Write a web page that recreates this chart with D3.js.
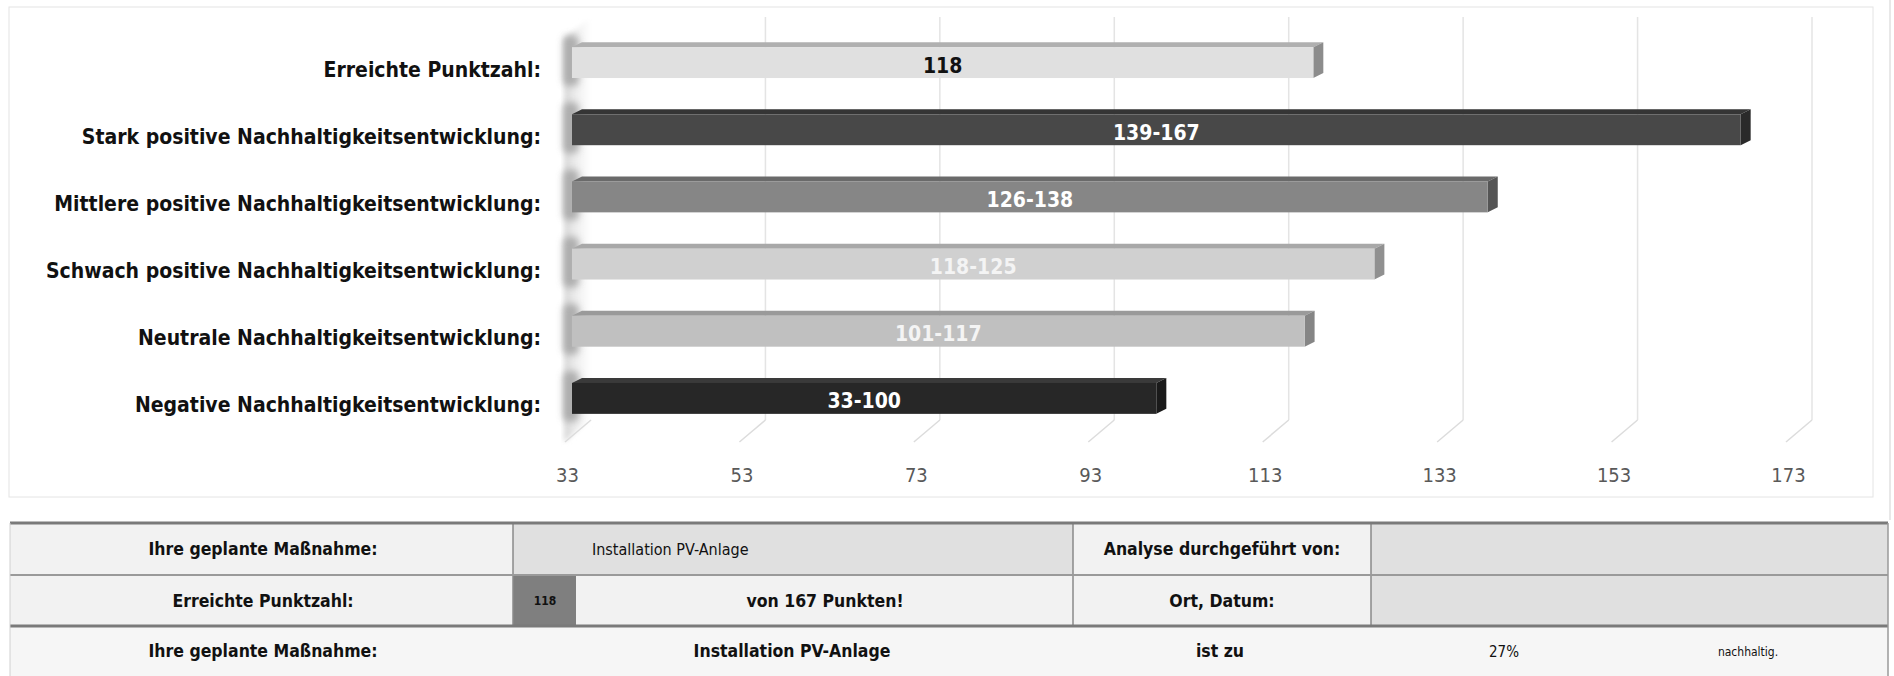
<!DOCTYPE html>
<html>
<head>
<meta charset="utf-8">
<script src="https://cdn.jsdelivr.net/npm/d3@7"></script>
<style>
	body{margin:0;background:#fff;}
	svg{display:block;font-family:"Liberation Sans Narrow","DejaVu Sans Condensed","Open Sans",sans-serif;}
</style>
</head>
<body>
<svg class="barChart" width="1894" height="676"></svg>
<script>

var categories = [
	'Erreichte Punktzahl:',
	'Stark positive Nachhaltigkeitsentwicklung:',
	'Mittlere positive Nachhaltigkeitsentwicklung:',
	'Schwach positive Nachhaltigkeitsentwicklung:',
	'Neutrale Nachhaltigkeitsentwicklung:',
	'Negative Nachhaltigkeitsentwicklung:'
];
var values = [118,167,138,125,117,100];
var barLabels = ['118','139-167','126-138','118-125','101-117','33-100'];
var tickValues = [33,53,73,93,113,133,153,173];

// table texts
var rowOne = ['Ihre geplante Maßnahme:','Installation PV-Anlage','Analyse durchgeführt von:',''];
var rowTwo = ['Erreichte Punktzahl:','118','von 167 Punkten!','Ort, Datum:',''];
var rowThree = ['Ihre geplante Maßnahme:','Installation PV-Anlage','ist zu','27%','nachhaltig.'];

var fronts = ['#e0e0e0','#484848','#868686','#d0d0d0','#c0c0c0','#272727'];
var tops = ['#b0b0b0','#353535','#6a6a6a','#a8a8a8','#9a9a9a','#3a3a3a'];
var sides = ['#8c8c8c','#2a2a2a','#555555','#909090','#858585','#1a1a1a'];
var textCols = ['#111','#fff','#fff','#f4f4f4','#f4f4f4','#fff'];

var svg = d3.select('.barChart');

var xScale = d3.scaleLinear()
				.domain([33,173])
				.range([567,1788]);

var yScale = d3.scaleBand()
				.domain(categories)
				.range([29,432])
				.paddingInner(0.54)
				.paddingOuter(0.27);

var depthX = 24, floorFront = 442, floorBack = 420, wallTop = 17;
var barOff = 5, barDx = 10, barDy = -5;

//chart frame
svg.append('rect')
	.attr('x',9).attr('y',7)
	.attr('width',1864).attr('height',490)
	.attr('fill','#fff')
	.attr('stroke','#e4e4e4');

svg.append('line')
	.attr('x1',1890).attr('x2',1890)
	.attr('y1',0).attr('y2',520)
	.attr('stroke','#e8e8e8')
	.attr('stroke-width',2);

var defs = svg.append('defs');
var wallGrad = defs.append('linearGradient')
				.attr('id','wallGrad')
				.attr('x1','0').attr('x2','1').attr('y1','0').attr('y2','0');
wallGrad.append('stop').attr('offset','0').attr('stop-color','#d6d6d6');
wallGrad.append('stop').attr('offset','0.5').attr('stop-color','#f0f0f0');
wallGrad.append('stop').attr('offset','1').attr('stop-color','#ffffff');

defs.append('filter').attr('id','soft')
	.append('feGaussianBlur').attr('stdDeviation',2.5);
defs.append('filter').attr('id','shadow')
	.attr('x','-1').attr('y','-1').attr('width','3').attr('height','3')
	.append('feGaussianBlur').attr('stdDeviation',3.5);

//left wall
var wx = xScale(33);
svg.append('path')
	.attr('d','M'+(wx-3)+','+(wallTop+22)+' L'+(wx+depthX)+','+wallTop+' L'+(wx+depthX)+','+floorBack+' L'+(wx-3)+','+floorFront+' Z')
	.attr('fill','url(#wallGrad)')
	.attr('filter','url(#soft)');

//gridlines (back wall) and floor lines
var grid = svg.append('g');
grid.selectAll('.gl')
	.data(tickValues.slice(1))
	.enter()
	.append('line')
	.attr('x1',d=>xScale(d)+depthX)
	.attr('x2',d=>xScale(d)+depthX)
	.attr('y1',wallTop)
	.attr('y2',floorBack)
	.attr('stroke','#e4e4e4')
	.attr('stroke-width',1.5);

grid.selectAll('.fl')
	.data(tickValues)
	.enter()
	.append('line')
	.attr('x1',d=>xScale(d)-2)
	.attr('x2',d=>xScale(d)+depthX)
	.attr('y1',floorFront)
	.attr('y2',floorBack)
	.attr('stroke','#dcdcdc')
	.attr('stroke-width',1.5);

//axis labels
var xAxisGen = d3.axisBottom(xScale).tickValues(tickValues).tickSize(0).tickPadding(0);
var xAxis = svg.append('g')
	.attr('transform','translate(0,482)')
	.call(xAxisGen);
xAxis.select('.domain').remove();
xAxis.selectAll('text')
	.attr('dy',0)
	.attr('fill','#595959')
	.attr('font-size',20)
	.attr('font-family','"Liberation Sans Narrow","DejaVu Sans Condensed",sans-serif');

//bars
function barPts(d,i){
	var x0 = xScale(33)+barOff, x1 = xScale(d)+barOff;
	var y0 = yScale(categories[i]), y1 = y0+yScale.bandwidth();
	return {x0:x0,x1:x1,y0:y0,y1:y1};
}

// soft shadows of the bars on the left wall
svg.selectAll('.wallShadow')
	.data(values)
	.enter()
	.append('rect')
	.attr('x',wx-4)
	.attr('y',(d,i)=>barPts(d,i).y0-12)
	.attr('width',16)
	.attr('height',yScale.bandwidth()+20)
	.attr('rx',6)
	.attr('fill','#9c9c9c')
	.attr('opacity',0.75)
	.attr('filter','url(#shadow)');

var barGroups = svg.selectAll('.bar')
	.data(values)
	.enter()
	.append('g')
	.attr('class','bar');

barGroups.append('path')
	.attr('d',function(d,i){
		var p = barPts(d,i);
		return 'M'+p.x0+','+p.y0+' L'+(p.x0+barDx)+','+(p.y0+barDy)+' L'+(p.x1+barDx)+','+(p.y0+barDy)+' L'+p.x1+','+p.y0+' Z';
	})
	.attr('fill',(d,i)=>tops[i]);

barGroups.append('path')
	.attr('d',function(d,i){
		var p = barPts(d,i);
		return 'M'+p.x1+','+p.y0+' L'+(p.x1+barDx)+','+(p.y0+barDy)+' L'+(p.x1+barDx)+','+(p.y1+barDy)+' L'+p.x1+','+p.y1+' Z';
	})
	.attr('fill',(d,i)=>sides[i]);

barGroups.append('rect')
	.attr('x',(d,i)=>barPts(d,i).x0)
	.attr('y',(d,i)=>barPts(d,i).y0)
	.attr('width',(d,i)=>barPts(d,i).x1-barPts(d,i).x0)
	.attr('height',yScale.bandwidth())
	.attr('fill',(d,i)=>fronts[i]);

barGroups.append('text')
	.text((d,i)=>barLabels[i])
	.attr('x',(d,i)=>(barPts(d,i).x0+barPts(d,i).x1)/2)
	.attr('y',(d,i)=>yScale(categories[i])+yScale.bandwidth()/2+4)
	.attr('text-anchor','middle')
	.attr('dominant-baseline','middle')
	.attr('font-size',21)
	.attr('font-weight','bold')
	.attr('fill',(d,i)=>textCols[i]);

//category labels
svg.selectAll('.cat')
	.data(categories)
	.enter()
	.append('text')
	.text(d=>d)
	.attr('x',541)
	.attr('y',d=>yScale(d)+yScale.bandwidth()/2+8)
	.attr('text-anchor','end')
	.attr('dominant-baseline','middle')
	.attr('font-size',21)
	.attr('font-weight','bold')
	.attr('fill','#111');

//table
var tbl = svg.append('g');
var rowY = [523,575,626,676];

function cell(x,y,w,h,fill){
	tbl.append('rect').attr('x',x).attr('y',y).attr('width',w).attr('height',h).attr('fill',fill);
}
function txt(s,x,y,size,weight,anchor){
	tbl.append('text').text(s)
		.attr('x',x).attr('y',y)
		.attr('text-anchor',anchor||'middle')
		.attr('dominant-baseline','middle')
		.attr('font-size',size)
		.attr('font-weight',weight)
		.attr('fill','#111');
}

cell(10,rowY[0],503,rowY[2]-rowY[0],'#f2f2f2');
cell(513,rowY[0],560,rowY[1]-rowY[0],'#e0e0e0');
cell(1073,rowY[0],298,rowY[2]-rowY[0],'#f2f2f2');
cell(1371,rowY[0],517,rowY[2]-rowY[0],'#e0e0e0');
cell(513,rowY[1],63,rowY[2]-rowY[1],'#7f7f7f');
cell(576,rowY[1],497,rowY[2]-rowY[1],'#f2f2f2');
cell(10,rowY[2],1878,rowY[3]-rowY[2],'#f6f6f6');

[[513,0,2],[1073,0,2],[1371,0,2]].forEach(function(v){
	tbl.append('line')
		.attr('x1',v[0]).attr('x2',v[0])
		.attr('y1',rowY[v[1]]).attr('y2',rowY[v[2]])
		.attr('stroke','#8a8a8a').attr('stroke-width',1.5);
});
tbl.append('line').attr('x1',10).attr('x2',1888).attr('y1',rowY[0]).attr('y2',rowY[0]).attr('stroke','#7a7a7a').attr('stroke-width',3);
tbl.append('line').attr('x1',10).attr('x2',1888).attr('y1',rowY[1]).attr('y2',rowY[1]).attr('stroke','#9a9a9a').attr('stroke-width',2);
tbl.append('line').attr('x1',10).attr('x2',1888).attr('y1',rowY[2]).attr('y2',rowY[2]).attr('stroke','#7a7a7a').attr('stroke-width',3);
tbl.append('line').attr('x1',1888).attr('x2',1888).attr('y1',rowY[0]).attr('y2',rowY[3]).attr('stroke','#9a9a9a').attr('stroke-width',1.5);
tbl.append('line').attr('x1',10).attr('x2',10).attr('y1',rowY[0]).attr('y2',rowY[3]).attr('stroke','#d0d0d0').attr('stroke-width',1);

var m1 = (rowY[0]+rowY[1])/2+1, m2 = (rowY[1]+rowY[2])/2+1, m3 = (rowY[2]+rowY[3])/2+1;

txt(rowOne[0],263,m1,17.5,'bold');
txt(rowOne[1],592,m1,16,'normal','start');
txt(rowOne[2],1222,m1,17.5,'bold');

txt(rowTwo[0],263,m2,17.5,'bold');
txt(rowTwo[1],545,m2,12,'bold');
txt(rowTwo[2],825,m2,17.5,'bold');
txt(rowTwo[3],1222,m2,17.5,'bold');

txt(rowThree[0],263,m3,17.5,'bold');
txt(rowThree[1],792,m3,17.5,'bold');
txt(rowThree[2],1220,m3,17.5,'bold');
txt(rowThree[3],1504,m3,15,'normal');
txt(rowThree[4],1748,m3,12,'normal');

</script>
</body>
</html>
